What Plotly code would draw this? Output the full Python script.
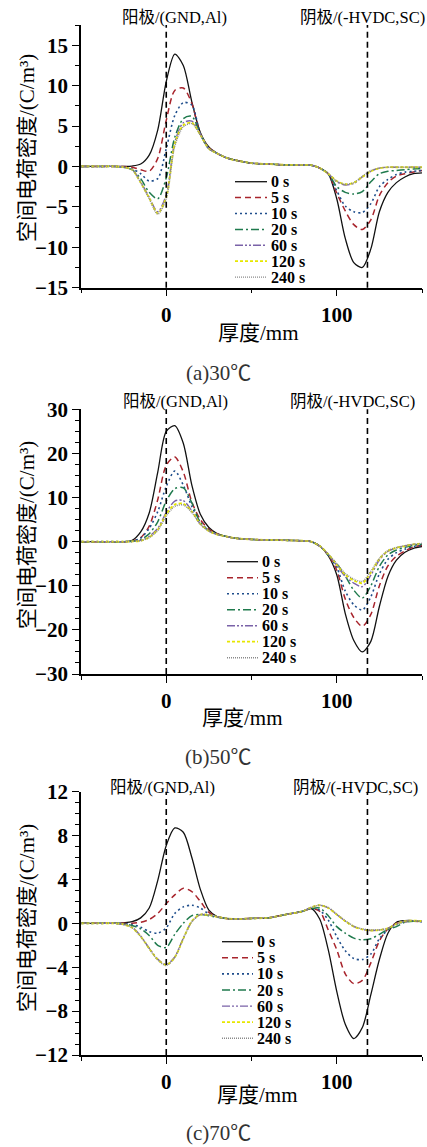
import plotly.graph_objects as go

# ---------------- data ----------------
x_mm = [-50, -40, -30, -25, -20, -15, -10, -5, 0, 5, 10, 15, 20, 25, 30, 35, 40, 50, 60, 70, 80, 85,
        90, 95, 100, 105, 110, 115, 120, 125, 130, 135, 140, 145, 150]

series_names = ["0 s", "5 s", "10 s", "20 s", "60 s", "120 s", "240 s"]

# (a) 30 °C
a_0s = [0, 0, 0, 0, 0.05, 0.3, 1.4, 4.5, 10.5, 13.9, 12.5, 8.0, 4.2, 2.4, 1.6, 1.1, 0.8, 0.4, 0.3, 0.2, 0.2, 0.15,
        -0.2, -0.9, -4.0, -8.9, -11.9, -12.5, -10.2, -5.6, -3.2, -2.0, -1.3, -0.9, -0.8]
a_5s = [0, 0, 0, 0, -0.1, -0.4, -0.6, 1.0, 5.7, 9.4, 9.7, 7.8, 4.0, 2.3, 1.6, 1.1, 0.8, 0.4, 0.3, 0.2, 0.2, 0.15,
        -0.2, -0.9, -3.3, -5.5, -7.2, -7.8, -6.6, -3.6, -2.0, -1.2, -0.9, -0.7, -0.5]
a_10s = [0, 0, 0, -0.1, -0.3, -0.9, -1.8, -1.5, 2.2, 6.3, 7.9, 7.6, 4.0, 2.2, 1.6, 1.1, 0.8, 0.4, 0.3, 0.2, 0.2, 0.15,
         -0.2, -0.9, -3.0, -4.9, -5.6, -5.7, -4.6, -2.5, -1.6, -1.0, -0.7, -0.6, -0.5]
a_20s = [0, 0, 0, -0.1, -0.4, -1.5, -3.2, -4.0, -1.4, 3.6, 5.9, 6.2, 4.0, 2.2, 1.6, 1.1, 0.8, 0.4, 0.3, 0.2, 0.2, 0.15,
         -0.2, -0.9, -2.5, -3.2, -3.4, -3.1, -1.9, -0.9, -0.6, -0.5, -0.4, -0.3, -0.3]
a_60s = [0, 0, 0, -0.1, -0.4, -1.9, -3.8, -5.6, -3.5, 3.0, 5.4, 5.6, 4.0, 2.2, 1.6, 1.1, 0.8, 0.4, 0.3, 0.2, 0.2, 0.15,
         -0.2, -0.9, -1.9, -2.3, -2.1, -1.3, -0.6, -0.2, -0.1, -0.1, -0.1, -0.1, -0.1]
a_120s = [0, 0, 0, -0.1, -0.4, -2.0, -3.9, -5.8, -3.8, 2.8, 5.1, 5.4, 3.9, 2.2, 1.6, 1.1, 0.8, 0.4, 0.3, 0.2, 0.2, 0.15,
          -0.2, -0.9, -1.8, -2.2, -2.0, -1.3, -0.6, -0.2, -0.1, -0.1, -0.1, -0.1, -0.1]
a_240s = [0, 0, 0, -0.1, -0.4, -2.0, -4.0, -5.9, -4.0, 2.5, 4.9, 5.3, 3.9, 2.2, 1.6, 1.1, 0.8, 0.4, 0.3, 0.2, 0.2, 0.15,
          -0.2, -0.9, -1.8, -2.2, -2.0, -1.2, -0.5, -0.2, -0.1, -0.1, -0.1, -0.1, -0.1]

# (b) 50 °C
b_0s = [0, 0, 0, 0, 0.3, 2.2, 6.5, 15.7, 25.0, 26.3, 22.3, 12.8, 6.2, 3.2, 1.8, 1.2, 0.8, 0.5, 0.4, 0.3, 0.2, 0.0,
        -1.0, -3.2, -7.5, -16.3, -22.4, -25.0, -22.6, -14.7, -7.9, -4.2, -2.4, -1.5, -1.1]
b_5s = [0, 0, 0, 0, 0.1, 0.9, 3.5, 9.5, 17.3, 19.2, 15.8, 9.0, 5.0, 2.8, 1.8, 1.2, 0.8, 0.5, 0.4, 0.3, 0.2, 0.0,
        -1.0, -3.0, -6.5, -13.0, -17.2, -19.2, -16.5, -10.0, -5.5, -3.3, -2.1, -1.2, -0.9]
b_10s = [0, 0, 0, 0, 0.1, 0.8, 3.0, 6.8, 12.5, 16.0, 12.8, 8.0, 4.4, 2.6, 1.7, 1.2, 0.8, 0.5, 0.4, 0.3, 0.2, 0.0,
         -1.0, -3.0, -5.8, -11.2, -14.3, -15.5, -12.5, -7.3, -4.0, -2.5, -1.7, -1.1, -0.8]
b_20s = [0, 0, 0, 0, 0.1, 0.5, 1.8, 4.5, 9.2, 12.0, 12.2, 8.8, 4.3, 2.5, 1.7, 1.2, 0.8, 0.5, 0.4, 0.3, 0.2, 0.0,
         -1.0, -3.0, -5.0, -7.8, -11.0, -12.8, -10.0, -5.6, -3.0, -1.9, -1.3, -0.8, -0.6]
b_60s = [0, 0, 0, 0, 0.05, 0.3, 1.2, 3.0, 6.6, 9.2, 9.3, 7.0, 4.0, 2.4, 1.6, 1.2, 0.8, 0.5, 0.4, 0.3, 0.2, 0.0,
         -1.0, -2.9, -5.4, -7.9, -9.4, -10.2, -7.6, -4.2, -2.2, -1.4, -1.0, -0.6, -0.4]
b_120s = [0, 0, 0, 0, 0.05, 0.2, 1.0, 2.7, 6.2, 8.4, 8.6, 6.8, 4.0, 2.4, 1.6, 1.2, 0.8, 0.5, 0.4, 0.3, 0.2, 0.0,
          -1.0, -2.8, -5.2, -7.5, -8.8, -9.4, -7.0, -3.9, -2.1, -1.4, -1.0, -0.6, -0.4]
b_240s = [0, 0, 0, 0, 0.05, 0.2, 0.9, 2.5, 5.8, 8.0, 8.3, 6.6, 3.9, 2.4, 1.6, 1.2, 0.8, 0.5, 0.4, 0.3, 0.2, 0.0,
          -1.0, -2.8, -5.0, -7.2, -8.5, -9.0, -6.7, -3.8, -2.0, -1.3, -0.9, -0.6, -0.4]

# (c) 70 °C
c_0s = [0, 0, 0, 0.05, 0.15, 0.5, 1.4, 3.9, 7.1, 8.7, 8.3, 6.0, 3.1, 1.2, 0.6, 0.45, 0.4, 0.45, 0.5, 0.8, 1.1, 1.35,
        0.4, -2.4, -6.2, -9.2, -10.5, -9.5, -6.5, -3.3, -0.9, 0.1, 0.25, 0.25, 0.15]
c_5s = [0, 0, 0, 0, 0, 0.1, 0.35, 0.9, 1.8, 2.6, 3.2, 2.9, 2.0, 1.0, 0.6, 0.45, 0.4, 0.45, 0.5, 0.8, 1.1, 1.35,
        1.1, -0.6, -2.4, -4.6, -5.5, -5.2, -3.6, -1.6, -0.5, 0.0, 0.15, 0.2, 0.15]
c_10s = [0, 0, 0, -0.05, -0.1, -0.35, -0.75, -0.9, -0.4, 0.9, 1.5, 1.65, 1.4, 0.85, 0.6, 0.45, 0.4, 0.45, 0.5, 0.8, 1.1,
         1.35, 1.2, 0.3, -1.2, -2.5, -3.2, -3.3, -2.8, -1.4, -0.6, -0.1, 0.15, 0.2, 0.15]
c_20s = [0, 0, 0, -0.05, -0.2, -0.5, -1.1, -2.0, -2.2, -1.0, 0.0, 0.7, 0.8, 0.7, 0.55, 0.45, 0.4, 0.45, 0.5, 0.8, 1.1,
         1.35, 1.4, 0.7, -0.3, -0.9, -1.35, -1.5, -1.4, -1.0, -0.55, -0.3, 0.1, 0.2, 0.15]
c_60s = [0, 0, 0, -0.1, -0.35, -1.15, -2.25, -3.25, -3.75, -3.05, -1.35, 0.15, 0.8, 0.75, 0.6, 0.45, 0.4, 0.45, 0.5,
         0.8, 1.1, 1.45, 1.65, 1.4, 0.8, 0.2, -0.3, -0.55, -0.65, -0.6, -0.45, -0.05, 0.2, 0.25, 0.2]
c_120s = [0, 0, 0, -0.1, -0.4, -1.2, -2.3, -3.3, -3.8, -3.1, -1.4, 0.2, 0.8, 0.75, 0.6, 0.45, 0.4, 0.45, 0.5, 0.8,
          1.1, 1.45, 1.65, 1.4, 0.8, 0.2, -0.3, -0.55, -0.65, -0.6, -0.45, -0.05, 0.2, 0.25, 0.2]
c_240s = [0, 0, 0, -0.1, -0.4, -1.2, -2.3, -3.35, -3.85, -3.1, -1.4, 0.15, 0.8, 0.75, 0.6, 0.45, 0.4, 0.45, 0.5, 0.8,
          1.1, 1.45, 1.65, 1.45, 0.85, 0.25, -0.25, -0.5, -0.6, -0.6, -0.45, -0.05, 0.2, 0.25, 0.2]

electrode_pos = [0, 118]
electrode_labels = ["阳极/(GND,Al)", "阴极/(-HVDC,SC)"]
panel_captions = ["(a)30℃", "(b)50℃", "(c)70℃"]
x_title = "厚度/mm"
y_title = "空间电荷密度/(C/m³)"
x_ticks = [0, 100]

panels = [
    [a_0s, a_5s, a_10s, a_20s, a_60s, a_120s, a_240s],
    [b_0s, b_5s, b_10s, b_20s, b_60s, b_120s, b_240s],
    [c_0s, c_5s, c_10s, c_20s, c_60s, c_120s, c_240s],
]

# ---------------- styles ----------------
W, H = 427, 1147
FONT = "Liberation Serif, Noto Sans CJK SC, serif"
colors = ["#111111", "#a8242c", "#1f4e8c", "#1f7a4d", "#7a62a8", "#e6e600", "#8a8a8a"]
dashes = ["solid", "6px,4px", "2px,3px", "8px,3px,2px,3px", "8px,2px,2px,2px,2px,2px", "3px,2px", "1px,1px"]
widths = [1.3, 1.5, 1.6, 1.5, 1.4, 1.8, 1.4]

# layout geometry (pixels)
plot_left, plot_right = 81, 422
panel_geo = [
    dict(top=25, bottom=287.7, rng=[-15, 17.5], dtick=5, minor=2.5,
         label_y=18, label_x=[174, 362], xtitle=(258, 333), cap=(218, 373), ytitle=(27, 148),
         leg=(235, 267, 269, 181.7, 15.9)),
    dict(top=409.3, bottom=674, rng=[-30, 30], dtick=10, minor=2.5,
         label_y=401.7, label_x=[175, 352], xtitle=(243, 718), cap=(218, 757), ytitle=(27, 535),
         leg=(227, 258, 260, 561.7, 16.0)),
    dict(top=791.7, bottom=1055, rng=[-12, 12], dtick=4, minor=1,
         label_y=787, label_x=[162, 355], xtitle=(257, 1095), cap=(218, 1133), ytitle=(27, 918),
         leg=(222, 253, 255, 941.7, 16.1)),
]

fig = go.Figure()
annotations = []
shapes = []
layout_axes = {}

for pi, (series, geo) in enumerate(zip(panels, panel_geo)):
    n = "" if pi == 0 else str(pi + 1)
    for si, vals in enumerate(series):
        fig.add_trace(go.Scatter(
            x=x_mm, y=vals, mode="lines", name=series_names[si], showlegend=False,
            line=dict(color=colors[si], dash=dashes[si], width=widths[si], shape="spline", smoothing=0.8),
            xaxis="x" + n, yaxis="y" + n,
        ))
        # legend key (sample line + label) for this series
        lx0, lx1, tx, y0, dy = geo["leg"]
        yy = 1 - (y0 + si * dy) / H
        shapes.append(dict(type="line", xref="paper", yref="paper", x0=lx0 / W, x1=lx1 / W, y0=yy, y1=yy,
                           line=dict(color=colors[si], dash=dashes[si], width=widths[si])))
        annotations.append(dict(text=series_names[si], x=tx / W, y=yy, xref="paper", yref="paper",
                                showarrow=False, xanchor="left", yanchor="middle",
                                font=dict(family=FONT, size=16, color="black", weight="bold")))

    ydom = [1 - geo["bottom"] / H, 1 - geo["top"] / H]
    layout_axes["xaxis" + n] = dict(
        domain=[plot_left / W, plot_right / W], range=[-50, 150], anchor="y" + n,
        tickmode="array", tickvals=x_ticks, ticks="outside", ticklen=7, tickwidth=1.3, tickcolor="black",
        minor=dict(dtick=50, tick0=0, ticks="outside", ticklen=4, tickcolor="black", tickwidth=1.2),
        showline=True, linecolor="black", linewidth=1.5, showgrid=False, zeroline=False,
        tickfont=dict(family=FONT, size=21, color="black", weight="bold"), automargin=False,
    )
    layout_axes["yaxis" + n] = dict(
        domain=ydom, range=geo["rng"], anchor="x" + n,
        tick0=0, dtick=geo["dtick"], ticks="outside", ticklen=7, tickwidth=1.3, tickcolor="black",
        minor=dict(dtick=geo["minor"], tick0=0, ticks="outside", ticklen=4, tickcolor="black", tickwidth=1.2),
        showline=True, linecolor="black", linewidth=1.5, showgrid=False, zeroline=False,
        tickfont=dict(family=FONT, size=21, color="black", weight="bold"), automargin=False,
    )

    for e in electrode_pos:
        shapes.append(dict(type="line", xref="x" + n, yref="y" + n + " domain", x0=e, x1=e, y0=0, y1=1,
                           line=dict(color="black", width=1.6, dash="6px,4px"), layer="above"))
    for lx, lab in zip(geo["label_x"], electrode_labels):
        annotations.append(dict(text=lab, x=lx / W, y=1 - geo["label_y"] / H, xref="paper", yref="paper",
                                showarrow=False, xanchor="center", yanchor="middle",
                                font=dict(family=FONT, size=16.5, color="black")))
    annotations.append(dict(text=x_title, x=geo["xtitle"][0] / W, y=1 - geo["xtitle"][1] / H,
                            xref="paper", yref="paper", showarrow=False, xanchor="center", yanchor="middle",
                            font=dict(family=FONT, size=21, color="black")))
    annotations.append(dict(text=y_title, x=geo["ytitle"][0] / W, y=1 - geo["ytitle"][1] / H,
                            xref="paper", yref="paper", showarrow=False, xanchor="center", yanchor="middle",
                            textangle=-90, font=dict(family=FONT, size=21, color="black")))
    annotations.append(dict(text=panel_captions[pi], x=geo["cap"][0] / W, y=1 - geo["cap"][1] / H,
                            xref="paper", yref="paper", showarrow=False, xanchor="center", yanchor="middle",
                            font=dict(family=FONT, size=21, color="#333333")))

fig.update_layout(
    width=W, height=H, margin=dict(l=0, r=0, t=0, b=0),
    paper_bgcolor="white", plot_bgcolor="white",
    showlegend=False, annotations=annotations, shapes=shapes,
    **layout_axes,
)

fig.write_html("out.html")
